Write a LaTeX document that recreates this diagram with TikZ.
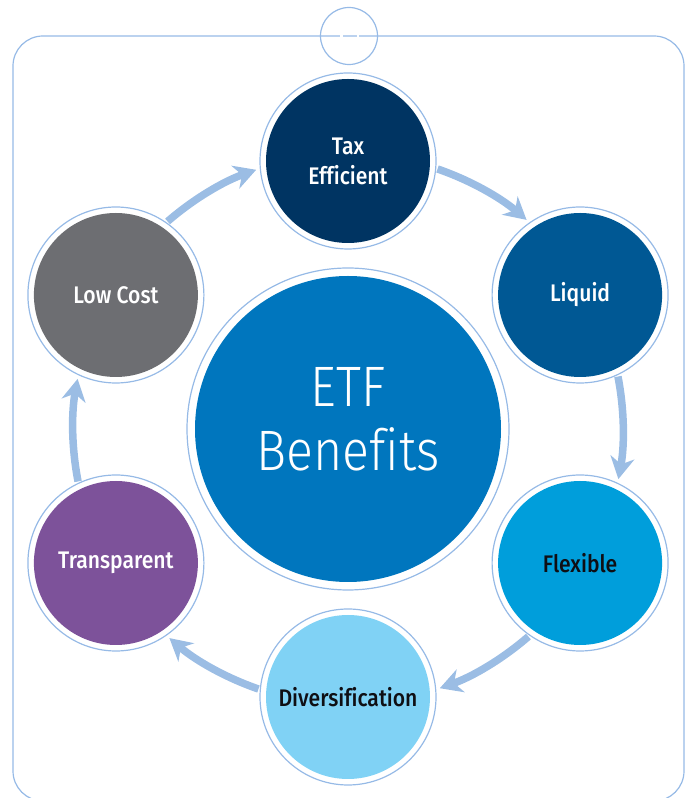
\documentclass[tikz,border=0pt]{standalone}
\usepackage{fontspec}
\setmainfont{Fira Sans}
\newfontfamily\labelfont{Fira Sans Medium}[FakeStretch=0.88, Ligatures=NoCommon]
\newfontfamily\titlefont{Fira Sans Light}[FakeStretch=0.88, Ligatures=NoCommon]
\usetikzlibrary{arrows.meta,calc}

\definecolor{ringblue}{RGB}{150,186,230}
\definecolor{flowblue}{RGB}{155,189,228}
\definecolor{taxc}{RGB}{0,52,98}
\definecolor{liquidc}{RGB}{0,88,148}
\definecolor{flexc}{RGB}{0,158,219}
\definecolor{diverc}{RGB}{128,210,245}
\definecolor{transc}{RGB}{125,82,154}
\definecolor{costc}{RGB}{109,110,114}
\definecolor{etfc}{RGB}{0,118,190}
\definecolor{darktext}{RGB}{15,15,20}

\begin{document}
\begin{tikzpicture}[x=1pt,y=1pt,
  ringline/.style={draw=ringblue, line width=1.2pt},
  bubble/.style={circle, minimum size=164pt, inner sep=0pt, align=center,
    font=\labelfont\fontsize{24}{30}\selectfont},
  hub/.style={circle, fill=etfc, minimum size=306pt, inner sep=0pt},
  hubtext/.style={align=center, inner sep=0pt, text=white,
    font=\titlefont\fontsize{57}{64}\selectfont},
  flow/.style={draw=flowblue, line width=7.5pt,
    -{Stealth[length=22pt, width=24pt, inset=7pt]}}]
\useasboundingbox (0,0) rectangle (688,798);

% outer frame with the small circle on its top edge
\begin{scope}
  \clip (0,0) rectangle (688,798);
  \draw[ringline, rounded corners=30pt] (13,-3) rectangle (684,762);
  \draw[ringline] (349,762) circle[radius=28.5];
  \draw[white, line width=2.4pt] (340.3,762) -- (342.7,762);
  \draw[white, line width=2.4pt] (356.7,762) -- (359.3,762);
\end{scope}

\coordinate (C) at (348,369);

% central hub
\node[hub] (etf) at (C) {};
\draw[ringline] (etf.center) circle[radius=161];
\node[hubtext] (etftext) at ($(C)+(0,10)$) {ETF\\Benefits};

% benefit bubbles around the hub
\foreach \n/\a/\c/\t/\txt in {
    tax/90/taxc/white/{Tax\\Efficient},
    liquid/30/liquidc/white/{Liquid},
    flex/-30/flexc/darktext/{Flexible},
    diver/-90/diverc/darktext/{Diversification},
    trans/-150/transc/white/{Transparent},
    cost/150/costc/white/{Low Cost}} {
  \node[bubble, fill=\c, text=\t] (\n) at ($(C)+(\a:268)$) {\txt};
  \draw[ringline] (\n.center) circle[radius=88];
}

% clockwise arrows between neighbouring bubbles
\foreach \i/\s/\e in {1/90/30, 2/30/-30, 3/-30/-90, 4/-90/-150, 5/-150/-210, 6/-210/-270} {
  \coordinate (f\i) at ($(C)+(\s-19:275)$);
  \draw[flow] (f\i) arc[start angle=\s-19, end angle=\e+19.5, radius=275];
}
\end{tikzpicture}
\end{document}
